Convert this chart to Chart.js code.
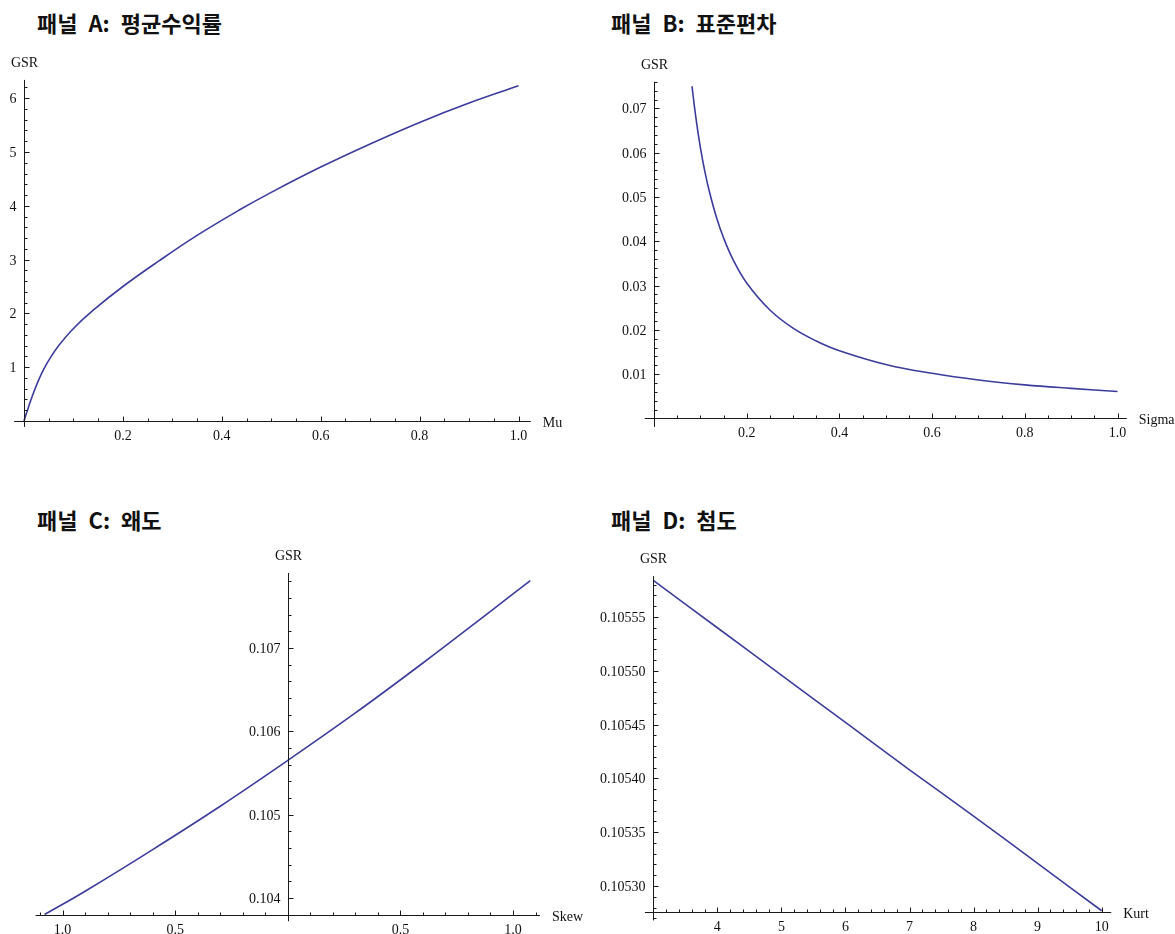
<!DOCTYPE html>
<html>
<head>
<meta charset="utf-8">
<script src="https://cdn.jsdelivr.net/npm/chart.js@4.4.0/dist/chart.umd.min.js"></script>
<style>
  html, body { margin: 0; padding: 0; background: #ffffff; }
  body { width: 1175px; height: 934px; position: relative; overflow: hidden; }
  .title { position: absolute; font-family: "Noto Sans CJK KR", "Noto Sans", sans-serif; font-weight: bold;
           font-size: 22px; line-height: 22px; white-space: pre; color: #111; word-spacing: 6px; }
  canvas { position: absolute; left: 0; top: 0; }
  .probe { position: absolute; left: -100px; top: -100px; font: 14px "Liberation Serif"; }
</style>
</head>
<body>
<div class="probe">GSR 0.1</div>
<div class="title" style="left:37px; top:11px;">패널 A: 평균수익률</div>
<div class="title" style="left:611px; top:11px;">패널 B: 표준편차</div>
<div class="title" style="left:37px; top:508px;">패널 C: 왜도</div>
<div class="title" style="left:611px; top:508px;">패널 D: 첨도</div>
<canvas id="cA" width="1175" height="934"></canvas>
<canvas id="cB" width="1175" height="934"></canvas>
<canvas id="cC" width="1175" height="934"></canvas>
<canvas id="cD" width="1175" height="934"></canvas>
<script>
// ---------- data ----------
const muValues   = [0, 0.01, 0.02, 0.03, 0.04, 0.055, 0.07, 0.1, 0.14, 0.2, 0.272, 0.35, 0.437, 0.5, 0.6, 0.7, 0.8, 0.9, 1.0];
const gsrByMu    = [0, 0.285, 0.545, 0.77, 0.965, 1.20, 1.40, 1.72, 2.06, 2.50, 2.97, 3.45, 3.93, 4.25, 4.72, 5.15, 5.55, 5.91, 6.23];

const sigmaValues = [0.082, 0.09, 0.1, 0.11, 0.12, 0.135, 0.15, 0.17, 0.2, 0.25, 0.3, 0.35, 0.4, 0.5, 0.6, 0.7, 0.8, 0.9, 1.0];
const gsrBySigma  = [0.0750, 0.0682, 0.0612, 0.0556, 0.0510, 0.0453, 0.0408, 0.0360, 0.0306, 0.0245, 0.0204, 0.0175, 0.0153, 0.0122, 0.0102, 0.0087, 0.0076, 0.0068, 0.0061];

const skewValues = [-1.08, -0.9, -0.6, -0.3, 0, 0.3, 0.6, 0.9, 1.077];
const gsrBySkew  = [0.10380, 0.10408, 0.10458, 0.10510, 0.10565, 0.10622, 0.10682, 0.10744, 0.10781];

const kurtValues = [3, 4, 5, 6, 7, 8, 9, 10];
const gsrByKurt  = [0.105584, 0.105540, 0.105496, 0.105452, 0.105408, 0.105365, 0.105321, 0.105277];

// tick values and labels
const muTicks = [0.2, 0.4, 0.6, 0.8, 1.0];
const muTickLabels = ['0.2', '0.4', '0.6', '0.8', '1.0'];
const gsrATicks = [1, 2, 3, 4, 5, 6];
const gsrATickLabels = ['1', '2', '3', '4', '5', '6'];

const sigmaTicks = [0.2, 0.4, 0.6, 0.8, 1.0];
const sigmaTickLabels = ['0.2', '0.4', '0.6', '0.8', '1.0'];
const gsrBTicks = [0.01, 0.02, 0.03, 0.04, 0.05, 0.06, 0.07];
const gsrBTickLabels = ['0.01', '0.02', '0.03', '0.04', '0.05', '0.06', '0.07'];

const skewTicks = [-1.0, -0.5, 0.5, 1.0];
const skewTickLabels = ['1.0', '0.5', '0.5', '1.0'];
const gsrCTicks = [0.104, 0.105, 0.106, 0.107];
const gsrCTickLabels = ['0.104', '0.105', '0.106', '0.107'];

const kurtTicks = [4, 5, 6, 7, 8, 9, 10];
const kurtTickLabels = ['4', '5', '6', '7', '8', '9', '10'];
const gsrDTicks = [0.10530, 0.10535, 0.10540, 0.10545, 0.10550, 0.10555];
const gsrDTickLabels = ['0.10530', '0.10535', '0.10540', '0.10545', '0.10550', '0.10555'];

const yAxisName = 'GSR';
const xAxisNames = ['Mu', 'Sigma', 'Skew', 'Kurt'];

// ---------- layout (pixel frames) ----------
const W = 1175, H = 934;
const LINE_COLOR = '#3c3c9c';
const TICK_FONT = '14px "Liberation Serif", "Times New Roman", serif';

// refX/refY: a data value whose pixel is px/py; sx/sy: pixels per unit
const frames = [
  { id: 'cA', refX: 0, px: 24, sx: 494.5, refY: 0, py: 421, sy: 53.8,
    x: [-0.02, 1.025], y: [-0.11, 6.34], xAxisAt: 0, yAxisAt: 0, xMinor: 0.05, yMinor: 0.2,
    xs: muValues, ys: gsrByMu, xt: muTicks, xl: muTickLabels, yt: gsrATicks, yl: gsrATickLabels, name: xAxisNames[0] },
  { id: 'cB', refX: 0, px: 654, sx: 463.5, refY: 0, py: 418.5, sy: 4430,
    x: [-0.02, 1.02], y: [-0.0019, 0.0760], xAxisAt: 0, yAxisAt: 0, xMinor: 0.05, yMinor: 0.002,
    xs: sigmaValues, ys: gsrBySigma, xt: sigmaTicks, xl: sigmaTickLabels, yt: gsrBTicks, yl: gsrBTickLabels, name: xAxisNames[1] },
  { id: 'cC', refX: 0, px: 287.8, sx: 225.2, refY: 0.107, py: 648, sy: 83300,
    x: [-1.12, 1.12], y: [0.10372, 0.10790], xAxisAt: 0.1038, yAxisAt: 0, xMinor: 0.1, yMinor: 0.0002,
    xs: skewValues, ys: gsrBySkew, xt: skewTicks, xl: skewTickLabels, yt: gsrCTicks, yl: gsrCTickLabels, name: xAxisNames[2] },
  { id: 'cD', refX: 3, px: 653.3, sx: 64.05, refY: 0.10555, py: 617, sy: 1076000,
    x: [2.87, 10.15], y: [0.105268, 0.105588], xAxisAt: 0.105276, yAxisAt: 3, xMinor: 0.2, yMinor: 0.00001,
    xs: kurtValues, ys: gsrByKurt, xt: kurtTicks, xl: kurtTickLabels, yt: gsrDTicks, yl: gsrDTickLabels, name: xAxisNames[3] }
];

function near(a, b, step) { return Math.abs(a - b) < step * 1e-3; }

const mmaAxes = {
  id: 'mmaAxes',
  afterDatasetsDraw(chart, args, o) {
    const ctx = chart.ctx, xs = chart.scales.x, ys = chart.scales.y;
    const X = v => xs.getPixelForValue(v), Y = v => ys.getPixelForValue(v);
    const hy = Math.round(Y(o.xAxisAt)) + 0.5;
    const vx = Math.round(X(o.yAxisAt)) + 0.5;
    ctx.save();
    ctx.strokeStyle = '#1a1a1a';
    ctx.lineWidth = 1;
    ctx.beginPath();
    ctx.moveTo(xs.left, hy); ctx.lineTo(xs.right, hy);
    ctx.moveTo(vx, ys.top); ctx.lineTo(vx, ys.bottom);
    const MAJ = 5, MIN = 3;
    const kx0 = Math.ceil(xs.min / o.xMinor - 1e-6), kx1 = Math.floor(xs.max / o.xMinor + 1e-6);
    for (let k = kx0; k <= kx1; k++) {
      const v = k * o.xMinor;
      if (near(v, o.yAxisAt, o.xMinor)) continue;
      const isMaj = o.xt.some(t => near(t, v, o.xMinor));
      const p = Math.round(X(v)) + 0.5;
      ctx.moveTo(p, hy); ctx.lineTo(p, hy - (isMaj ? MAJ : MIN));
    }
    const ky0 = Math.ceil(ys.min / o.yMinor - 1e-6), ky1 = Math.floor(ys.max / o.yMinor + 1e-6);
    for (let k = ky0; k <= ky1; k++) {
      const v = k * o.yMinor;
      if (near(v, o.xAxisAt, o.yMinor)) continue;
      const isMaj = o.yt.some(t => near(t, v, o.yMinor));
      const p = Math.round(Y(v)) + 0.5;
      ctx.moveTo(vx, p); ctx.lineTo(vx + (isMaj ? MAJ : MIN), p);
    }
    ctx.stroke();
    ctx.fillStyle = '#111';
    ctx.font = TICK_FONT;
    ctx.textBaseline = 'alphabetic';
    ctx.textAlign = 'center';
    o.xt.forEach((t, i) => ctx.fillText(o.xl[i], X(t), hy + 18));
    ctx.textAlign = 'right';
    o.yt.forEach((t, i) => ctx.fillText(o.yl[i], vx - 8, Y(t) + 5));
    ctx.textAlign = 'center';
    ctx.fillText(yAxisName, vx, ys.top - 13);
    ctx.textAlign = 'left';
    ctx.fillText(o.name, xs.right + 12, hy + 5);
    ctx.restore();
  }
};

function build() {
  frames.forEach(f => {
    const left = f.px + (f.x[0] - f.refX) * f.sx;
    const right = f.px + (f.x[1] - f.refX) * f.sx;
    const top = f.py - (f.y[1] - f.refY) * f.sy;
    const bottom = f.py - (f.y[0] - f.refY) * f.sy;
    new Chart(document.getElementById(f.id), {
      type: 'line',
      data: {
        datasets: [{
          data: f.xs.map((v, i) => ({ x: v, y: f.ys[i] })),
          borderColor: LINE_COLOR,
          borderWidth: 1.6,
          pointRadius: 0,
          fill: false,
          tension: 0.4,
          cubicInterpolationMode: 'default',
          clip: false
        }]
      },
      options: {
        responsive: false,
        devicePixelRatio: 1,
        animation: false,
        events: [],
        layout: { padding: { left: left, right: W - right, top: top, bottom: H - bottom } },
        plugins: {
          legend: { display: false },
          title: { display: false },
          tooltip: { enabled: false },
          mmaAxes: f
        },
        scales: {
          x: { type: 'linear', min: f.x[0], max: f.x[1], display: false },
          y: { type: 'linear', min: f.y[0], max: f.y[1], display: false }
        }
      },
      plugins: [mmaAxes]
    });
  });
}

if (document.fonts && document.fonts.load) {
  document.fonts.load(TICK_FONT).then(build, build);
} else {
  build();
}
</script>
</body>
</html>
